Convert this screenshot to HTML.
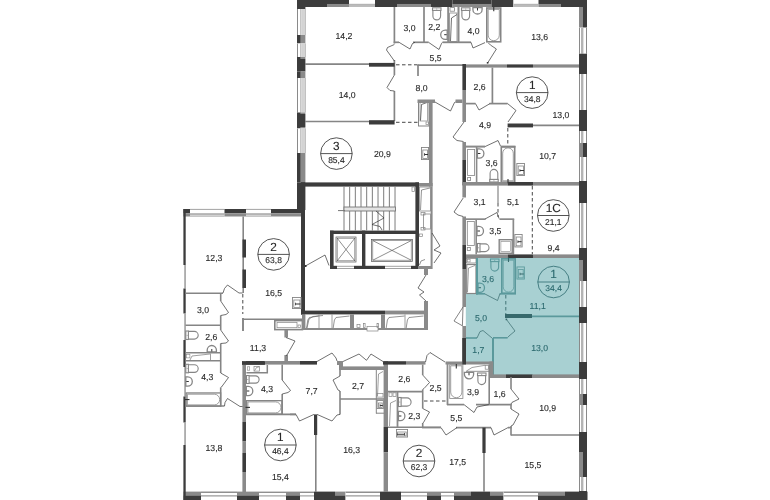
<!DOCTYPE html>
<html><head><meta charset="utf-8"><title>Plan</title>
<style>
html,body{margin:0;padding:0;background:#fff;}
body{width:770px;height:500px;overflow:hidden;}
svg{display:block;font-family:"Liberation Sans",Arial,sans-serif;}
text{text-rendering:geometricPrecision;}
svg{will-change:transform;}
</style></head><body>
<svg width="770" height="500" viewBox="0 0 770 500">
<rect width="770" height="500" fill="#fff"/>
<polygon points="476.5,258 579,258 579,375 493,375 493,362.5 465.8,362.5 465.8,293.5 476.5,293.5" fill="#a8d0d2"/>
<rect x="297" y="0" width="30" height="7" fill="#3c3c3c"/>
<rect x="327" y="0" width="22" height="3.99" fill="#3c3c3c"/>
<rect x="327" y="3.99" width="22" height="3.01" fill="#8a8a8a"/>
<rect x="349" y="0" width="26" height="7" fill="#fff"/>
<rect x="349" y="3.8" width="26" height="2.1" fill="#b4b4b4"/>
<rect x="349" y="6.3" width="26" height="0.7" fill="#a0a0a0"/>
<rect x="375" y="0" width="22" height="7" fill="#3c3c3c"/>
<rect x="397" y="0" width="34" height="3.99" fill="#3c3c3c"/>
<rect x="397" y="3.99" width="34" height="3.01" fill="#8a8a8a"/>
<rect x="431" y="0" width="21.5" height="7" fill="#3c3c3c"/>
<rect x="452.5" y="0" width="39" height="3.99" fill="#3c3c3c"/>
<rect x="452.5" y="3.99" width="39" height="3.01" fill="#8a8a8a"/>
<rect x="491.5" y="0" width="22" height="7" fill="#3c3c3c"/>
<rect x="513.5" y="0" width="25" height="7" fill="#fff"/>
<rect x="513.5" y="3.8" width="25" height="2.1" fill="#b4b4b4"/>
<rect x="513.5" y="6.3" width="25" height="0.7" fill="#a0a0a0"/>
<rect x="538.5" y="0" width="22.5" height="3.99" fill="#3c3c3c"/>
<rect x="538.5" y="3.99" width="22.5" height="3.01" fill="#8a8a8a"/>
<rect x="561" y="0" width="26" height="7" fill="#3c3c3c"/>
<rect x="579" y="7" width="4" height="20.7" fill="#8a8a8a"/>
<rect x="583" y="7" width="4" height="20.7" fill="#3c3c3c"/>
<rect x="579" y="27.7" width="8" height="26" fill="#fff"/>
<line x1="579.5" y1="27.7" x2="579.5" y2="53.7" stroke="#8a8a8a" stroke-width="1" />
<rect x="581" y="27.7" width="2.4" height="26" fill="#b4b4b4"/>
<line x1="586.5" y1="27.7" x2="586.5" y2="53.7" stroke="#8a8a8a" stroke-width="1" />
<rect x="579" y="53.7" width="8" height="20.3" fill="#3c3c3c"/>
<rect x="579" y="74" width="8" height="36" fill="#fff"/>
<line x1="579.5" y1="74" x2="579.5" y2="110" stroke="#8a8a8a" stroke-width="1" />
<rect x="581" y="74" width="2.4" height="36" fill="#b4b4b4"/>
<line x1="586.5" y1="74" x2="586.5" y2="110" stroke="#8a8a8a" stroke-width="1" />
<rect x="579" y="110" width="8" height="21" fill="#3c3c3c"/>
<rect x="579" y="131" width="8" height="12" fill="#fff"/>
<line x1="579.5" y1="131" x2="579.5" y2="143" stroke="#8a8a8a" stroke-width="1" />
<rect x="581" y="131" width="2.4" height="12" fill="#b4b4b4"/>
<line x1="586.5" y1="131" x2="586.5" y2="143" stroke="#8a8a8a" stroke-width="1" />
<rect x="579" y="143" width="4" height="14" fill="#8a8a8a"/>
<rect x="583" y="143" width="4" height="14" fill="#3c3c3c"/>
<rect x="579" y="157" width="8" height="24" fill="#fff"/>
<line x1="579.5" y1="157" x2="579.5" y2="181" stroke="#8a8a8a" stroke-width="1" />
<rect x="581" y="157" width="2.4" height="24" fill="#b4b4b4"/>
<line x1="586.5" y1="157" x2="586.5" y2="181" stroke="#8a8a8a" stroke-width="1" />
<rect x="579" y="181" width="8" height="22" fill="#3c3c3c"/>
<rect x="579" y="203" width="8" height="45" fill="#fff"/>
<line x1="579.5" y1="203" x2="579.5" y2="248" stroke="#8a8a8a" stroke-width="1" />
<rect x="581" y="203" width="2.4" height="45" fill="#b4b4b4"/>
<line x1="586.5" y1="203" x2="586.5" y2="248" stroke="#8a8a8a" stroke-width="1" />
<rect x="579" y="248" width="8" height="12" fill="#3c3c3c"/>
<rect x="579" y="260" width="4" height="21" fill="#8a8a8a"/>
<rect x="583" y="260" width="4" height="21" fill="#3c3c3c"/>
<rect x="579" y="281" width="8" height="26" fill="#fff"/>
<line x1="579.5" y1="281" x2="579.5" y2="307" stroke="#8a8a8a" stroke-width="1" />
<rect x="581" y="281" width="2.4" height="26" fill="#b4b4b4"/>
<line x1="586.5" y1="281" x2="586.5" y2="307" stroke="#8a8a8a" stroke-width="1" />
<rect x="579" y="307" width="8" height="16" fill="#3c3c3c"/>
<rect x="579" y="323" width="8" height="39" fill="#fff"/>
<line x1="579.5" y1="323" x2="579.5" y2="362" stroke="#8a8a8a" stroke-width="1" />
<rect x="581" y="323" width="2.4" height="39" fill="#b4b4b4"/>
<line x1="586.5" y1="323" x2="586.5" y2="362" stroke="#8a8a8a" stroke-width="1" />
<rect x="579" y="362" width="8" height="17" fill="#3c3c3c"/>
<rect x="579" y="379" width="8" height="15" fill="#fff"/>
<line x1="579.5" y1="379" x2="579.5" y2="394" stroke="#8a8a8a" stroke-width="1" />
<rect x="581" y="379" width="2.4" height="15" fill="#b4b4b4"/>
<line x1="586.5" y1="379" x2="586.5" y2="394" stroke="#8a8a8a" stroke-width="1" />
<rect x="579" y="394" width="4" height="11" fill="#8a8a8a"/>
<rect x="583" y="394" width="4" height="11" fill="#3c3c3c"/>
<rect x="579" y="405" width="8" height="27" fill="#fff"/>
<line x1="579.5" y1="405" x2="579.5" y2="432" stroke="#8a8a8a" stroke-width="1" />
<rect x="581" y="405" width="2.4" height="27" fill="#b4b4b4"/>
<line x1="586.5" y1="405" x2="586.5" y2="432" stroke="#8a8a8a" stroke-width="1" />
<rect x="579" y="432" width="8" height="20" fill="#3c3c3c"/>
<rect x="579" y="452" width="4" height="25" fill="#8a8a8a"/>
<rect x="583" y="452" width="4" height="25" fill="#3c3c3c"/>
<rect x="579" y="477" width="8" height="14" fill="#fff"/>
<line x1="579.5" y1="477" x2="579.5" y2="491" stroke="#8a8a8a" stroke-width="1" />
<rect x="581" y="477" width="2.4" height="14" fill="#b4b4b4"/>
<line x1="586.5" y1="477" x2="586.5" y2="491" stroke="#8a8a8a" stroke-width="1" />
<rect x="579" y="491" width="8" height="9" fill="#3c3c3c"/>
<rect x="579" y="0" width="8" height="7" fill="#3c3c3c"/>
<rect x="183.5" y="491.6" width="17.5" height="3.86" fill="#8a8a8a"/>
<rect x="183.5" y="495.46" width="17.5" height="4.54" fill="#3c3c3c"/>
<rect x="201" y="491.6" width="36" height="8.4" fill="#fff"/>
<line x1="201" y1="492.3" x2="237" y2="492.3" stroke="#909090" stroke-width="1.4" />
<line x1="201" y1="495.9" x2="237" y2="495.9" stroke="#9a9a9a" stroke-width="1.1" />
<rect x="237" y="491.6" width="22" height="3.86" fill="#8a8a8a"/>
<rect x="237" y="495.46" width="22" height="4.54" fill="#3c3c3c"/>
<rect x="259" y="491.6" width="27" height="8.4" fill="#fff"/>
<line x1="259" y1="492.3" x2="286" y2="492.3" stroke="#909090" stroke-width="1.4" />
<line x1="259" y1="495.9" x2="286" y2="495.9" stroke="#9a9a9a" stroke-width="1.1" />
<rect x="286" y="491.6" width="14" height="3.86" fill="#8a8a8a"/>
<rect x="286" y="495.46" width="14" height="4.54" fill="#3c3c3c"/>
<rect x="300" y="491.6" width="14" height="8.4" fill="#fff"/>
<line x1="300" y1="492.3" x2="314" y2="492.3" stroke="#909090" stroke-width="1.4" />
<line x1="300" y1="495.9" x2="314" y2="495.9" stroke="#9a9a9a" stroke-width="1.1" />
<rect x="314" y="491.6" width="21" height="8.4" fill="#3c3c3c"/>
<rect x="335" y="491.6" width="10.6" height="3.86" fill="#8a8a8a"/>
<rect x="335" y="495.46" width="10.6" height="4.54" fill="#3c3c3c"/>
<rect x="345.6" y="491.6" width="34.4" height="8.4" fill="#fff"/>
<line x1="345.6" y1="492.3" x2="380" y2="492.3" stroke="#909090" stroke-width="1.4" />
<line x1="345.6" y1="495.9" x2="380" y2="495.9" stroke="#9a9a9a" stroke-width="1.1" />
<rect x="380" y="491.6" width="21" height="8.4" fill="#3c3c3c"/>
<rect x="401" y="491.6" width="26" height="8.4" fill="#fff"/>
<line x1="401" y1="492.3" x2="427" y2="492.3" stroke="#909090" stroke-width="1.4" />
<line x1="401" y1="495.9" x2="427" y2="495.9" stroke="#9a9a9a" stroke-width="1.1" />
<rect x="427" y="491.6" width="14" height="3.86" fill="#8a8a8a"/>
<rect x="427" y="495.46" width="14" height="4.54" fill="#3c3c3c"/>
<rect x="441" y="491.6" width="13" height="8.4" fill="#fff"/>
<line x1="441" y1="492.3" x2="454" y2="492.3" stroke="#909090" stroke-width="1.4" />
<line x1="441" y1="495.9" x2="454" y2="495.9" stroke="#9a9a9a" stroke-width="1.1" />
<rect x="454" y="491.6" width="17" height="3.86" fill="#8a8a8a"/>
<rect x="454" y="495.46" width="17" height="4.54" fill="#3c3c3c"/>
<rect x="471" y="491.6" width="19" height="8.4" fill="#3c3c3c"/>
<rect x="490" y="491.6" width="13.6" height="3.86" fill="#8a8a8a"/>
<rect x="490" y="495.46" width="13.6" height="4.54" fill="#3c3c3c"/>
<rect x="503.6" y="491.6" width="34.4" height="8.4" fill="#fff"/>
<line x1="503.6" y1="492.3" x2="538" y2="492.3" stroke="#909090" stroke-width="1.4" />
<line x1="503.6" y1="495.9" x2="538" y2="495.9" stroke="#9a9a9a" stroke-width="1.1" />
<rect x="538" y="491.6" width="27" height="3.86" fill="#8a8a8a"/>
<rect x="538" y="495.46" width="27" height="4.54" fill="#3c3c3c"/>
<rect x="565" y="491.6" width="22.5" height="8.4" fill="#3c3c3c"/>
<rect x="297" y="0" width="8.4" height="9" fill="#3c3c3c"/>
<rect x="297" y="9" width="8.4" height="26" fill="#fff"/>
<line x1="297.5" y1="9" x2="297.5" y2="35" stroke="#8a8a8a" stroke-width="1" />
<line x1="300.9" y1="9" x2="300.9" y2="35" stroke="#959595" stroke-width="0.9" />
<line x1="303" y1="9" x2="303" y2="35" stroke="#b0b0b0" stroke-width="1.1" />
<line x1="305.1" y1="9" x2="305.1" y2="35" stroke="#8a8a8a" stroke-width="0.9" />
<rect x="297" y="35" width="3.78" height="8.5" fill="#3c3c3c"/>
<rect x="300.78" y="35" width="4.62" height="8.5" fill="#8a8a8a"/>
<rect x="297" y="43.5" width="8.4" height="13.5" fill="#fff"/>
<line x1="297.5" y1="43.5" x2="297.5" y2="57" stroke="#8a8a8a" stroke-width="1" />
<line x1="300.9" y1="43.5" x2="300.9" y2="57" stroke="#959595" stroke-width="0.9" />
<line x1="303" y1="43.5" x2="303" y2="57" stroke="#b0b0b0" stroke-width="1.1" />
<line x1="305.1" y1="43.5" x2="305.1" y2="57" stroke="#8a8a8a" stroke-width="0.9" />
<rect x="297" y="57" width="3.78" height="2" fill="#3c3c3c"/>
<rect x="300.78" y="57" width="4.62" height="2" fill="#8a8a8a"/>
<rect x="297" y="59" width="8.4" height="12.5" fill="#3c3c3c"/>
<rect x="297" y="71.5" width="3.78" height="6.5" fill="#3c3c3c"/>
<rect x="300.78" y="71.5" width="4.62" height="6.5" fill="#8a8a8a"/>
<rect x="297" y="78" width="8.4" height="34.5" fill="#fff"/>
<line x1="297.5" y1="78" x2="297.5" y2="112.5" stroke="#8a8a8a" stroke-width="1" />
<line x1="300.9" y1="78" x2="300.9" y2="112.5" stroke="#959595" stroke-width="0.9" />
<line x1="303" y1="78" x2="303" y2="112.5" stroke="#b0b0b0" stroke-width="1.1" />
<line x1="305.1" y1="78" x2="305.1" y2="112.5" stroke="#8a8a8a" stroke-width="0.9" />
<rect x="297" y="112.5" width="3.78" height="1.5" fill="#3c3c3c"/>
<rect x="300.78" y="112.5" width="4.62" height="1.5" fill="#8a8a8a"/>
<rect x="297" y="114" width="8.4" height="13" fill="#3c3c3c"/>
<rect x="297" y="127" width="3.78" height="1.5" fill="#3c3c3c"/>
<rect x="300.78" y="127" width="4.62" height="1.5" fill="#8a8a8a"/>
<rect x="297" y="128.5" width="8.4" height="24.5" fill="#fff"/>
<line x1="297.5" y1="128.5" x2="297.5" y2="153" stroke="#8a8a8a" stroke-width="1" />
<line x1="300.9" y1="128.5" x2="300.9" y2="153" stroke="#959595" stroke-width="0.9" />
<line x1="303" y1="128.5" x2="303" y2="153" stroke="#b0b0b0" stroke-width="1.1" />
<line x1="305.1" y1="128.5" x2="305.1" y2="153" stroke="#8a8a8a" stroke-width="0.9" />
<rect x="297" y="153" width="3.78" height="29.4" fill="#3c3c3c"/>
<rect x="300.78" y="153" width="4.62" height="29.4" fill="#8a8a8a"/>
<rect x="297" y="182.4" width="8.4" height="27.6" fill="#3c3c3c"/>
<rect x="183.4" y="209" width="6.6" height="4.28" fill="#3c3c3c"/>
<rect x="183.4" y="213.28" width="6.6" height="3.22" fill="#8a8a8a"/>
<rect x="190" y="209" width="34.5" height="7.5" fill="#fff"/>
<line x1="190" y1="209.4" x2="224.5" y2="209.4" stroke="#8a8a8a" stroke-width="0.8" />
<rect x="190" y="213.12" width="34.5" height="2.03" fill="#b4b4b4"/>
<line x1="190" y1="216.1" x2="224.5" y2="216.1" stroke="#8a8a8a" stroke-width="0.8" />
<rect x="224.5" y="209" width="21.5" height="4.28" fill="#3c3c3c"/>
<rect x="224.5" y="213.28" width="21.5" height="3.22" fill="#8a8a8a"/>
<rect x="246" y="209" width="25" height="7.5" fill="#fff"/>
<line x1="246" y1="209.4" x2="271" y2="209.4" stroke="#8a8a8a" stroke-width="0.8" />
<rect x="246" y="213.12" width="25" height="2.03" fill="#b4b4b4"/>
<line x1="246" y1="216.1" x2="271" y2="216.1" stroke="#8a8a8a" stroke-width="0.8" />
<rect x="271" y="209" width="30.5" height="4.28" fill="#3c3c3c"/>
<rect x="271" y="213.28" width="30.5" height="3.22" fill="#8a8a8a"/>
<rect x="183.4" y="209" width="2.3" height="56" fill="#3c3c3c"/>
<rect x="184.3" y="265" width="1.5" height="23.5" fill="#9a9a9a"/>
<rect x="183.4" y="288.5" width="2.3" height="25" fill="#3c3c3c"/>
<rect x="184.3" y="313.5" width="1.5" height="26.5" fill="#9a9a9a"/>
<rect x="183.4" y="340" width="2.3" height="27" fill="#3c3c3c"/>
<rect x="184.3" y="367" width="1.5" height="29.5" fill="#9a9a9a"/>
<rect x="183.4" y="396.5" width="2.3" height="26" fill="#3c3c3c"/>
<rect x="184.3" y="422.5" width="1.5" height="22.5" fill="#9a9a9a"/>
<rect x="183.4" y="445" width="2.3" height="55" fill="#3c3c3c"/>
<rect x="301" y="182.4" width="118" height="4.2" fill="#3c3c3c"/>
<rect x="301" y="182.4" width="4" height="132" fill="#3c3c3c"/>
<rect x="415.4" y="182.4" width="3.6" height="86.6" fill="#3c3c3c"/>
<rect x="301" y="310.6" width="84" height="3.8" fill="#3c3c3c"/>
<rect x="385" y="310.6" width="43" height="3.8" fill="#8a8a8a"/>
<rect x="330" y="230.6" width="89" height="3.4" fill="#3c3c3c"/>
<rect x="330" y="230.6" width="3.6" height="38.4" fill="#3c3c3c"/>
<rect x="362" y="230.6" width="3.4" height="38.4" fill="#3c3c3c"/>
<rect x="330" y="265.8" width="7" height="3.2" fill="#3c3c3c"/>
<rect x="354" y="265.8" width="31" height="3.2" fill="#3c3c3c"/>
<rect x="411" y="265.8" width="8" height="3.2" fill="#3c3c3c"/>
<line x1="337" y1="266.3" x2="354" y2="266.3" stroke="#8a8a8a" stroke-width="0.8" />
<line x1="337" y1="268.5" x2="354" y2="268.5" stroke="#8a8a8a" stroke-width="0.8" />
<line x1="385" y1="266.3" x2="411" y2="266.3" stroke="#8a8a8a" stroke-width="0.8" />
<line x1="385" y1="268.5" x2="411" y2="268.5" stroke="#8a8a8a" stroke-width="0.8" />
<rect x="336" y="237" width="20" height="25" fill="none" stroke="#555" stroke-width="0.7"/>
<rect x="337.2" y="238.2" width="17.6" height="22.6" fill="none" stroke="#666" stroke-width="0.6"/>
<line x1="337.2" y1="238.2" x2="354.8" y2="260.8" stroke="#444" stroke-width="0.6" />
<line x1="337.2" y1="260.8" x2="354.8" y2="238.2" stroke="#444" stroke-width="0.6" />
<rect x="371.6" y="239.4" width="40.8" height="22" fill="none" stroke="#555" stroke-width="0.7"/>
<rect x="372.8" y="240.6" width="38.4" height="19.6" fill="none" stroke="#666" stroke-width="0.6"/>
<line x1="372.8" y1="240.6" x2="411.2" y2="260.2" stroke="#444" stroke-width="0.6" />
<line x1="372.8" y1="260.2" x2="411.2" y2="240.6" stroke="#444" stroke-width="0.6" />
<line x1="344" y1="186.4" x2="344" y2="230.6" stroke="#7d7d7d" stroke-width="1" />
<line x1="349.67" y1="186.4" x2="349.67" y2="230.6" stroke="#7d7d7d" stroke-width="1" />
<line x1="355.34" y1="186.4" x2="355.34" y2="230.6" stroke="#7d7d7d" stroke-width="1" />
<line x1="361.01" y1="186.4" x2="361.01" y2="230.6" stroke="#7d7d7d" stroke-width="1" />
<line x1="366.68" y1="186.4" x2="366.68" y2="230.6" stroke="#7d7d7d" stroke-width="1" />
<line x1="372.35" y1="186.4" x2="372.35" y2="230.6" stroke="#7d7d7d" stroke-width="1" />
<line x1="378.02" y1="186.4" x2="378.02" y2="230.6" stroke="#7d7d7d" stroke-width="1" />
<line x1="383.69" y1="186.4" x2="383.69" y2="230.6" stroke="#7d7d7d" stroke-width="1" />
<line x1="389.36" y1="186.4" x2="389.36" y2="230.6" stroke="#7d7d7d" stroke-width="1" />
<line x1="395.03" y1="186.4" x2="395.03" y2="230.6" stroke="#7d7d7d" stroke-width="1" />
<rect x="344" y="207" width="51.5" height="4" fill="#e4e4e4" stroke="#777" stroke-width="0.9"/>
<line x1="338" y1="210.6" x2="345" y2="210.6" stroke="#777" stroke-width="1" />
<polyline points="376,211 380,214.5 384,218 372,224.5 380,226.5 382,230" fill="none" stroke="#333333" stroke-width="0.7" stroke-linejoin="round"/>
<polyline points="305.4,266 325,255 329,265.5" fill="none" stroke="#333333" stroke-width="0.7" stroke-linejoin="round"/>
<rect x="304.5" y="265" width="2" height="2" fill="#333"/>
<rect x="301" y="209.5" width="4" height="104.9" fill="#3c3c3c"/>
<line x1="394.4" y1="7" x2="394.4" y2="43.5" stroke="#858585" stroke-width="1.7" />
<line x1="394.4" y1="60" x2="394.4" y2="75" stroke="#858585" stroke-width="1.7" />
<line x1="394.4" y1="91" x2="394.4" y2="121" stroke="#858585" stroke-width="1.7" />
<line x1="305" y1="64.2" x2="369" y2="64.2" stroke="#858585" stroke-width="1.7" />
<rect x="369" y="62.9" width="25.6" height="3.8" fill="#3c3c3c"/>
<line x1="305" y1="121.5" x2="369" y2="121.5" stroke="#858585" stroke-width="1.7" />
<rect x="369" y="120.2" width="25.6" height="4.3" fill="#3c3c3c"/>
<line x1="396" y1="64.8" x2="417" y2="64.8" stroke="#333333" stroke-width="0.9" stroke-dasharray="3.5 2.5"/>
<line x1="396" y1="122.3" x2="418" y2="122.3" stroke="#333333" stroke-width="0.9" stroke-dasharray="3.5 2.5"/>
<line x1="424" y1="7" x2="424" y2="42.5" stroke="#858585" stroke-width="1.7" />
<line x1="393.7" y1="42.3" x2="399" y2="42.3" stroke="#858585" stroke-width="1.7" />
<line x1="413" y1="42.3" x2="428.5" y2="42.3" stroke="#858585" stroke-width="1.7" />
<polyline points="399,42.3 410,49 412.5,43.5 415,42.3" fill="none" stroke="#333333" stroke-width="0.7" stroke-linejoin="round"/>
<polyline points="394.4,44.5 387.5,47.5 386.5,50 394.4,61" fill="none" stroke="#333333" stroke-width="0.7" stroke-linejoin="round"/>
<polyline points="394.4,75 387,87.5 390,90.5 394.4,91" fill="none" stroke="#333333" stroke-width="0.7" stroke-linejoin="round"/>
<polyline points="428.5,42.3 439,49.5 441.5,43.5 442.5,42.3" fill="none" stroke="#333333" stroke-width="0.7" stroke-linejoin="round"/>
<line x1="442.5" y1="42.3" x2="471" y2="42.3" stroke="#858585" stroke-width="1.8" />
<rect x="447.2" y="7" width="1.8" height="36" fill="#8a8a8a"/>
<rect x="457.5" y="7" width="2" height="36" fill="#8a8a8a"/>
<rect x="450" y="7.6" width="4.5" height="3.6" fill="none" stroke="#858585" stroke-width="0.8"/>
<rect x="449.6" y="13" width="7.4" height="28.5" fill="none" stroke="#858585" stroke-width="0.8"/>
<polyline points="450.5,41 451.5,18 457,14.5" fill="none" stroke="#333333" stroke-width="0.7" stroke-linejoin="round"/>
<rect x="432.5" y="7.8" width="8.5" height="2.6" fill="#fff" fill-opacity="0" stroke="#858585" stroke-width="1.1"/>
<path d="M432.9 10.4 V16.05 A3.85 3.85 0 0 0 440.6 16.05 V10.4" fill="none" stroke="#858585" stroke-width="1.1"/>
<circle cx="436.75" cy="9.1" r="0.5" fill="#858585"/>
<path d="M447.2 30.1 H445.3 A4.6 4.6 0 0 0 445.3 39.3 H447.2 Z" fill="none" stroke="#858585" stroke-width="1.3"/>
<line x1="446.7" y1="34.7" x2="444.2" y2="34.7" stroke="#333333" stroke-width="1" />
<rect x="461.5" y="7.8" width="8.5" height="2.6" fill="#fff" fill-opacity="0" stroke="#858585" stroke-width="1.1"/>
<path d="M461.9 10.4 V16.05 A3.85 3.85 0 0 0 469.6 16.05 V10.4" fill="none" stroke="#858585" stroke-width="1.1"/>
<circle cx="465.75" cy="9.1" r="0.5" fill="#858585"/>
<path d="M472.9 7.5 V9.4 A4.6 4.6 0 0 0 482.1 9.4 V7.5 Z" fill="none" stroke="#858585" stroke-width="1.3"/>
<line x1="477.5" y1="8" x2="477.5" y2="10.5" stroke="#333333" stroke-width="1" />
<rect x="486.8" y="8" width="13.9" height="33.8" fill="none" stroke="#858585" stroke-width="1.6"/>
<path d="M488.2 9.4 V35.15 A5.25 5.25 0 0 0 499.3 35.15 V9.4 Z" fill="none" stroke="#858585" stroke-width="0.8"/>
<line x1="493.75" y1="6.7" x2="493.75" y2="11.2" stroke="#333333" stroke-width="1.1" />
<polyline points="471,42.3 473,48 485,42.6" fill="none" stroke="#333333" stroke-width="0.7" stroke-linejoin="round"/>
<polyline points="487.6,63 496.4,49 490.4,45 488.4,43" fill="none" stroke="#333333" stroke-width="0.7" stroke-linejoin="round"/>
<rect x="486.8" y="62" width="1.6" height="1.6" fill="#333"/>
<line x1="418" y1="64.6" x2="418" y2="76" stroke="#858585" stroke-width="1.7" />
<line x1="417.3" y1="65.2" x2="463" y2="65.2" stroke="#858585" stroke-width="1.7" />
<rect x="462.4" y="64" width="3.6" height="26" fill="#3c3c3c"/>
<rect x="462.4" y="90" width="3.6" height="32" fill="#8a8a8a"/>
<rect x="462.4" y="142" width="3.6" height="18" fill="#8a8a8a"/>
<rect x="462.4" y="160" width="3.6" height="25" fill="#3c3c3c"/>
<rect x="462.4" y="185" width="3.6" height="12.5" fill="#8a8a8a"/>
<rect x="462.4" y="216.5" width="3.6" height="28.5" fill="#8a8a8a"/>
<rect x="462.4" y="245" width="3.6" height="24" fill="#3c3c3c"/>
<rect x="462.4" y="269" width="3.6" height="38" fill="#8a8a8a"/>
<rect x="462.4" y="326" width="3.6" height="12" fill="#8a8a8a"/>
<rect x="462.4" y="338" width="3.6" height="26" fill="#3c3c3c"/>
<rect x="429" y="100" width="3.6" height="86.5" fill="#8a8a8a"/>
<rect x="430.6" y="186.5" width="2" height="82.5" fill="#8a8a8a"/>
<rect x="419" y="183" width="13.6" height="3.5" fill="#8a8a8a"/>
<rect x="418.5" y="100.5" width="10.5" height="25.5" fill="none" stroke="#858585" stroke-width="1"/>
<rect x="420" y="102" width="7.5" height="19" fill="none" stroke="#858585" stroke-width="0.7"/>
<polyline points="420.5,120.5 421.5,104.5 427,102.5" fill="none" stroke="#333333" stroke-width="0.7" stroke-linejoin="round"/>
<rect x="426" y="122" width="2.6" height="2.6" fill="none" stroke="#858585" stroke-width="0.7"/>
<rect x="421.45" y="147.45" width="7.1" height="12.1" fill="none" stroke="#858585" stroke-width="0.9"/>
<rect x="422.8" y="150" width="4.6" height="8.4" fill="none" stroke="#858585" stroke-width="0.8"/>
<line x1="428" y1="154.5" x2="424.5" y2="154.5" stroke="#333333" stroke-width="1" />
<line x1="424.5" y1="153.2" x2="424.5" y2="155.8" stroke="#333333" stroke-width="0.8" />
<rect x="417.5" y="99.5" width="17.5" height="3.5" fill="#8a8a8a"/>
<rect x="455.5" y="99.5" width="6.9" height="3.5" fill="#8a8a8a"/>
<polyline points="435,102 450.5,111 454.5,102.5 455.5,102" fill="none" stroke="#333333" stroke-width="0.7" stroke-linejoin="round"/>
<circle cx="336.4" cy="153.6" r="15.8" fill="none" stroke="#2a2a2a" stroke-width="0.8"/>
<line x1="320.6" y1="153.6" x2="352.2" y2="153.6" stroke="#2a2a2a" stroke-width="0.8" />
<text x="336.4" y="149.72" font-size="11.8" fill="#2a2a2a" stroke="#2a2a2a" stroke-width="0.12" text-anchor="middle">3</text>
<text x="336.4" y="162.64" font-size="8.5" fill="#2a2a2a" stroke="#2a2a2a" stroke-width="0.12" text-anchor="middle">85,4</text>
<text x="344" y="38.71" font-size="8.7" fill="#2a2a2a" stroke="#2a2a2a" stroke-width="0.12" text-anchor="middle">14,2</text>
<text x="409.5" y="30.51" font-size="8.7" fill="#2a2a2a" stroke="#2a2a2a" stroke-width="0.12" text-anchor="middle">3,0</text>
<text x="434.3" y="30.31" font-size="8.7" fill="#2a2a2a" stroke="#2a2a2a" stroke-width="0.12" text-anchor="middle">2,2</text>
<text x="473.5" y="34.31" font-size="8.7" fill="#2a2a2a" stroke="#2a2a2a" stroke-width="0.12" text-anchor="middle">4,0</text>
<text x="539.6" y="39.51" font-size="8.7" fill="#2a2a2a" stroke="#2a2a2a" stroke-width="0.12" text-anchor="middle">13,6</text>
<text x="435.6" y="60.71" font-size="8.7" fill="#2a2a2a" stroke="#2a2a2a" stroke-width="0.12" text-anchor="middle">5,5</text>
<text x="421.6" y="91.11" font-size="8.7" fill="#2a2a2a" stroke="#2a2a2a" stroke-width="0.12" text-anchor="middle">8,0</text>
<text x="347.2" y="97.91" font-size="8.7" fill="#2a2a2a" stroke="#2a2a2a" stroke-width="0.12" text-anchor="middle">14,0</text>
<text x="382.4" y="157.11" font-size="8.7" fill="#2a2a2a" stroke="#2a2a2a" stroke-width="0.12" text-anchor="middle">20,9</text>
<rect x="466" y="64.4" width="41" height="3.2" fill="#8a8a8a"/>
<rect x="507" y="64.4" width="26" height="3.2" fill="#3c3c3c"/>
<rect x="533" y="64.4" width="46" height="3.2" fill="#8a8a8a"/>
<line x1="492.4" y1="67.6" x2="492.4" y2="103.6" stroke="#858585" stroke-width="1.7" />
<line x1="466" y1="103.6" x2="475.5" y2="103.6" stroke="#858585" stroke-width="1.7" />
<line x1="489.5" y1="103.6" x2="507.6" y2="103.6" stroke="#858585" stroke-width="1.7" />
<polyline points="475.5,103.6 479,110 490,103.6" fill="none" stroke="#333333" stroke-width="0.7" stroke-linejoin="round"/>
<polyline points="507.6,103.6 516,110.5 508,122" fill="none" stroke="#333333" stroke-width="0.7" stroke-linejoin="round"/>
<rect x="507.6" y="123.5" width="25.4" height="3.9" fill="#3c3c3c"/>
<line x1="533" y1="125.4" x2="579" y2="125.4" stroke="#858585" stroke-width="1.7" />
<line x1="507.8" y1="128" x2="507.8" y2="146" stroke="#333333" stroke-width="0.9" stroke-dasharray="3.5 2.5"/>
<polyline points="464,122 453,137 457,140.5 463.5,141.5" fill="none" stroke="#333333" stroke-width="0.7" stroke-linejoin="round"/>
<rect x="466" y="145.6" width="19" height="2" fill="#8a8a8a"/>
<rect x="501" y="145.6" width="14.5" height="2" fill="#8a8a8a"/>
<polyline points="485,146.6 498,140.5 500.5,146" fill="none" stroke="#333333" stroke-width="0.7" stroke-linejoin="round"/>
<rect x="475.8" y="146" width="1.6" height="37" fill="#8a8a8a"/>
<rect x="467.6" y="149.5" width="7" height="26" fill="none" stroke="#858585" stroke-width="0.8"/>
<rect x="467.6" y="177.5" width="3" height="3" fill="none" stroke="#858585" stroke-width="0.8"/>
<rect x="501.3" y="146.8" width="13.4" height="35.4" fill="none" stroke="#858585" stroke-width="1.6"/>
<path d="M502.7 180.8 V153.2 A5 5 0 0 1 513.3 153.2 V180.8 Z" fill="none" stroke="#858585" stroke-width="0.8"/>
<line x1="508" y1="183.5" x2="508" y2="179" stroke="#333333" stroke-width="1.1" />
<path d="M477.4 148.9 H479.3 A4.6 4.6 0 0 1 479.3 158.1 H477.4 Z" fill="none" stroke="#858585" stroke-width="1.3"/>
<line x1="477.9" y1="153.5" x2="480.4" y2="153.5" stroke="#333333" stroke-width="1" />
<rect x="489.7" y="179.4" width="8.5" height="2.6" fill="none" stroke="#858585" stroke-width="1.1"/>
<path d="M490.1 179.4 V173.25 A3.85 3.85 0 0 1 497.8 173.25 V179.4" fill="none" stroke="#858585" stroke-width="1.1"/>
<circle cx="493.95" cy="180.7" r="0.5" fill="#858585"/>
<rect x="462.4" y="182" width="45.2" height="3.6" fill="#8a8a8a"/>
<rect x="507.6" y="182" width="25.4" height="3.6" fill="#3c3c3c"/>
<rect x="533" y="182" width="46" height="3.6" fill="#8a8a8a"/>
<rect x="516.85" y="163.45" width="7.7" height="12.1" fill="none" stroke="#858585" stroke-width="0.9"/>
<rect x="518.2" y="166" width="5.2" height="8.4" fill="none" stroke="#858585" stroke-width="0.8"/>
<line x1="524" y1="170.5" x2="519.9" y2="170.5" stroke="#333333" stroke-width="1" />
<line x1="519.9" y1="169.2" x2="519.9" y2="171.8" stroke="#333333" stroke-width="0.8" />
<circle cx="532.2" cy="92.6" r="15.8" fill="none" stroke="#2a2a2a" stroke-width="0.8"/>
<line x1="516.4" y1="92.6" x2="548" y2="92.6" stroke="#2a2a2a" stroke-width="0.8" />
<text x="532.2" y="88.72" font-size="11.8" fill="#2a2a2a" stroke="#2a2a2a" stroke-width="0.12" text-anchor="middle">1</text>
<text x="532.2" y="101.64" font-size="8.5" fill="#2a2a2a" stroke="#2a2a2a" stroke-width="0.12" text-anchor="middle">34,8</text>
<text x="479.6" y="89.51" font-size="8.7" fill="#2a2a2a" stroke="#2a2a2a" stroke-width="0.12" text-anchor="middle">2,6</text>
<text x="485" y="127.51" font-size="8.7" fill="#2a2a2a" stroke="#2a2a2a" stroke-width="0.12" text-anchor="middle">4,9</text>
<text x="561" y="118.11" font-size="8.7" fill="#2a2a2a" stroke="#2a2a2a" stroke-width="0.12" text-anchor="middle">13,0</text>
<text x="547.6" y="158.71" font-size="8.7" fill="#2a2a2a" stroke="#2a2a2a" stroke-width="0.12" text-anchor="middle">10,7</text>
<text x="491.6" y="166.11" font-size="8.7" fill="#2a2a2a" stroke="#2a2a2a" stroke-width="0.12" text-anchor="middle">3,6</text>
<line x1="498" y1="185.6" x2="498" y2="203" stroke="#858585" stroke-width="1.2" />
<line x1="498" y1="203" x2="498" y2="217" stroke="#333333" stroke-width="0.9" stroke-dasharray="3.5 2.5"/>
<line x1="532.3" y1="186" x2="532.3" y2="254" stroke="#333333" stroke-width="0.9" stroke-dasharray="3.5 2.5"/>
<polyline points="463.2,198 454,212 458,215 463.2,216.5" fill="none" stroke="#333333" stroke-width="0.7" stroke-linejoin="round"/>
<rect x="466" y="218.3" width="19.5" height="1.7" fill="#8a8a8a"/>
<rect x="499.5" y="218.3" width="14.7" height="1.7" fill="#8a8a8a"/>
<polyline points="485,219 497,212.5 499,218.5" fill="none" stroke="#333333" stroke-width="0.7" stroke-linejoin="round"/>
<rect x="512.5" y="219" width="1.7" height="35.4" fill="#8a8a8a"/>
<rect x="475.4" y="219" width="1.6" height="35.4" fill="#8a8a8a"/>
<rect x="467.3" y="221.5" width="7" height="24" fill="none" stroke="#858585" stroke-width="0.8"/>
<rect x="467.3" y="247.5" width="3" height="3" fill="none" stroke="#858585" stroke-width="0.8"/>
<path d="M477 226.4 H478.9 A4.6 4.6 0 0 1 478.9 235.6 H477 Z" fill="none" stroke="#858585" stroke-width="1.3"/>
<line x1="477.5" y1="231" x2="480" y2="231" stroke="#333333" stroke-width="1" />
<rect x="477.4" y="243.5" width="2.6" height="8.5" fill="none" stroke="#858585" stroke-width="1.1"/>
<path d="M480 243.9 H485.15 A3.85 3.85 0 0 1 485.15 251.6 H480" fill="none" stroke="#858585" stroke-width="1.1"/>
<circle cx="478.7" cy="247.75" r="0.5" fill="#858585"/>
<rect x="499.2" y="239.7" width="13" height="13.6" fill="none" stroke="#858585" stroke-width="1.4"/>
<rect x="500.9" y="241.4" width="9.6" height="10.2" fill="none" stroke="#858585" stroke-width="0.6"/>
<rect x="514.85" y="234.45" width="7.3" height="12.5" fill="none" stroke="#858585" stroke-width="0.9"/>
<rect x="516.2" y="237" width="4.8" height="8.8" fill="none" stroke="#858585" stroke-width="0.8"/>
<line x1="521.6" y1="241.7" x2="517.9" y2="241.7" stroke="#333333" stroke-width="1" />
<line x1="517.9" y1="240.4" x2="517.9" y2="243" stroke="#333333" stroke-width="0.8" />
<rect x="466" y="254.4" width="41.6" height="3.6" fill="#8a8a8a"/>
<rect x="507.6" y="254.4" width="25.4" height="3.6" fill="#3c3c3c"/>
<rect x="533" y="254.4" width="46" height="3.6" fill="#8a8a8a"/>
<circle cx="553.3" cy="215.5" r="15.8" fill="none" stroke="#2a2a2a" stroke-width="0.8"/>
<line x1="537.5" y1="215.5" x2="569.1" y2="215.5" stroke="#2a2a2a" stroke-width="0.8" />
<text x="553.3" y="211.62" font-size="11.8" fill="#2a2a2a" stroke="#2a2a2a" stroke-width="0.12" text-anchor="middle">1C</text>
<text x="553.3" y="224.54" font-size="8.5" fill="#2a2a2a" stroke="#2a2a2a" stroke-width="0.12" text-anchor="middle">21,1</text>
<text x="479.6" y="205.11" font-size="8.7" fill="#2a2a2a" stroke="#2a2a2a" stroke-width="0.12" text-anchor="middle">3,1</text>
<text x="513" y="205.11" font-size="8.7" fill="#2a2a2a" stroke="#2a2a2a" stroke-width="0.12" text-anchor="middle">5,1</text>
<text x="495.4" y="234.11" font-size="8.7" fill="#2a2a2a" stroke="#2a2a2a" stroke-width="0.12" text-anchor="middle">3,5</text>
<text x="553.6" y="250.51" font-size="8.7" fill="#2a2a2a" stroke="#2a2a2a" stroke-width="0.12" text-anchor="middle">9,4</text>
<rect x="466.5" y="258.5" width="9.5" height="4.5" fill="#fff" stroke="#858585" stroke-width="0.8"/>
<rect x="467.5" y="259.3" width="2.6" height="2.6" fill="none" stroke="#858585" stroke-width="0.6"/>
<rect x="466.7" y="264.5" width="9.3" height="29" fill="#fff" stroke="#858585" stroke-width="1.2"/>
<polyline points="467.5,292 468.5,268 475,265.5" fill="none" stroke="#777" stroke-width="0.7" stroke-linejoin="round"/>
<rect x="476" y="258" width="2" height="36.5" fill="#5b999c"/>
<rect x="476" y="293" width="9" height="1.6" fill="#5b999c"/>
<rect x="499.5" y="293" width="16.5" height="1.6" fill="#5b999c"/>
<polyline points="485,294 497.5,300.5 499.5,295 500,294" fill="none" stroke="#37696c" stroke-width="0.7" stroke-linejoin="round"/>
<rect x="490.5" y="259" width="8.5" height="2.6" fill="#fff" fill-opacity="0" stroke="#5b999c" stroke-width="1.1"/>
<path d="M490.9 261.6 V267.25 A3.85 3.85 0 0 0 498.6 267.25 V261.6" fill="none" stroke="#5b999c" stroke-width="1.1"/>
<circle cx="494.75" cy="260.3" r="0.5" fill="#5b999c"/>
<path d="M478 283.1 H479.9 A4.6 4.6 0 0 1 479.9 292.3 H478 Z" fill="none" stroke="#5b999c" stroke-width="1.3"/>
<line x1="478.5" y1="287.7" x2="481" y2="287.7" stroke="#37696c" stroke-width="1" />
<rect x="501.8" y="258.8" width="13.4" height="34.4" fill="none" stroke="#5b999c" stroke-width="1.6"/>
<path d="M503.2 260.2 V286.8 A5 5 0 0 0 513.8 286.8 V260.2 Z" fill="none" stroke="#5b999c" stroke-width="0.8"/>
<line x1="508.5" y1="257.5" x2="508.5" y2="262" stroke="#37696c" stroke-width="1.1" />
<rect x="516.95" y="266.95" width="7.4" height="12.1" fill="none" stroke="#5b999c" stroke-width="0.9"/>
<rect x="518.3" y="269.5" width="4.9" height="8.4" fill="none" stroke="#5b999c" stroke-width="0.8"/>
<line x1="523.8" y1="274" x2="520" y2="274" stroke="#37696c" stroke-width="1" />
<line x1="520" y1="272.7" x2="520" y2="275.3" stroke="#37696c" stroke-width="0.8" />
<line x1="505.8" y1="295" x2="505.8" y2="314" stroke="#37696c" stroke-width="0.9" stroke-dasharray="3.5 2.5"/>
<rect x="505" y="314" width="27" height="4" fill="#37696c"/>
<line x1="532" y1="316.4" x2="579" y2="316.4" stroke="#5b999c" stroke-width="1.7" />
<polyline points="506.5,319.5 515,331 509,336 507.6,337.6" fill="none" stroke="#37696c" stroke-width="0.7" stroke-linejoin="round"/>
<rect x="505.6" y="318.6" width="1.6" height="1.6" fill="#37696c"/>
<line x1="493" y1="337.8" x2="507.6" y2="337.8" stroke="#5b999c" stroke-width="1.6" />
<line x1="465.8" y1="338" x2="477" y2="338" stroke="#5b999c" stroke-width="1.6" />
<polyline points="477,338 480,331.6 483,330.5 492,338" fill="none" stroke="#37696c" stroke-width="0.7" stroke-linejoin="round"/>
<rect x="492" y="338" width="2" height="37" fill="#5b999c"/>
<line x1="493" y1="338" x2="493" y2="362" stroke="#5b999c" stroke-width="1.7" />
<polygon points="463,307 454,321 462.4,325.8" fill="#fff" stroke="#333333" stroke-width="0.6"/>
<circle cx="553.6" cy="282" r="15.8" fill="none" stroke="#2c6a6f" stroke-width="0.8"/>
<line x1="537.8" y1="282" x2="569.4" y2="282" stroke="#2c6a6f" stroke-width="0.8" />
<text x="553.6" y="278.12" font-size="11.8" fill="#2c6a6f" stroke="#2c6a6f" stroke-width="0.12" text-anchor="middle">1</text>
<text x="553.6" y="291.04" font-size="8.5" fill="#2c6a6f" stroke="#2c6a6f" stroke-width="0.12" text-anchor="middle">34,4</text>
<text x="488" y="281.51" font-size="8.7" fill="#2c6a6f" stroke="#2c6a6f" stroke-width="0.12" text-anchor="middle">3,6</text>
<text x="537.6" y="308.71" font-size="8.7" fill="#2c6a6f" stroke="#2c6a6f" stroke-width="0.12" text-anchor="middle">11,1</text>
<text x="481" y="320.71" font-size="8.7" fill="#2c6a6f" stroke="#2c6a6f" stroke-width="0.12" text-anchor="middle">5,0</text>
<text x="539.6" y="351.11" font-size="8.7" fill="#2c6a6f" stroke="#2c6a6f" stroke-width="0.12" text-anchor="middle">13,0</text>
<text x="478.4" y="352.71" font-size="8.7" fill="#2c6a6f" stroke="#2c6a6f" stroke-width="0.12" text-anchor="middle">1,7</text>
<rect x="493" y="374.4" width="13" height="3.6" fill="#8a8a8a"/>
<rect x="506" y="374.4" width="26.6" height="3.6" fill="#3c3c3c"/>
<rect x="532.6" y="374.4" width="46.4" height="3.6" fill="#8a8a8a"/>
<rect x="489.4" y="361.5" width="4" height="16.5" fill="#8a8a8a"/>
<rect x="445.5" y="361.5" width="47.5" height="3" fill="#8a8a8a"/>
<rect x="446.6" y="362" width="1.8" height="43" fill="#8a8a8a"/>
<line x1="447" y1="404.6" x2="464" y2="404.6" stroke="#858585" stroke-width="1.7" />
<line x1="476" y1="404.6" x2="511.6" y2="404.6" stroke="#858585" stroke-width="1.7" />
<polyline points="464,404.6 474,412.5 477,407 489,404.6" fill="none" stroke="#333333" stroke-width="0.7" stroke-linejoin="round"/>
<rect x="449.7" y="364.8" width="13.2" height="33.6" fill="none" stroke="#858585" stroke-width="0.8"/>
<path d="M450.7 365.8 V392.1 A5.3 5.3 0 0 0 461.9 392.1 V365.8 Z" fill="none" stroke="#858585" stroke-width="0.8"/>
<line x1="456.3" y1="363.9" x2="456.3" y2="368.4" stroke="#333333" stroke-width="1.1" />
<line x1="466" y1="371.3" x2="489" y2="371.3" stroke="#858585" stroke-width="0.9" />
<polyline points="466.5,371 472,367.5 485,365.3" fill="none" stroke="#777" stroke-width="0.7" stroke-linejoin="round"/>
<rect x="485.2" y="365.6" width="3.4" height="3.6" fill="none" stroke="#858585" stroke-width="0.7"/>
<path d="M464.4 372.3 V374.2 A4.6 4.6 0 0 0 473.6 374.2 V372.3 Z" fill="none" stroke="#858585" stroke-width="1.3"/>
<line x1="469" y1="372.8" x2="469" y2="375.3" stroke="#333333" stroke-width="1" />
<rect x="477.5" y="373" width="8.5" height="2.6" fill="#fff" fill-opacity="0" stroke="#858585" stroke-width="1.1"/>
<path d="M477.9 375.6 V380.75 A3.85 3.85 0 0 0 485.6 380.75 V375.6" fill="none" stroke="#858585" stroke-width="1.1"/>
<circle cx="481.75" cy="374.3" r="0.5" fill="#858585"/>
<line x1="489.2" y1="364.5" x2="489.2" y2="404.6" stroke="#858585" stroke-width="1.6" />
<line x1="511" y1="377" x2="511" y2="389" stroke="#858585" stroke-width="1.6" />
<line x1="511" y1="404" x2="511" y2="409" stroke="#858585" stroke-width="1.6" />
<line x1="511" y1="426" x2="511" y2="435.6" stroke="#858585" stroke-width="1.6" />
<polyline points="511,389 519,399 512,402.4 511,404" fill="none" stroke="#333333" stroke-width="0.7" stroke-linejoin="round"/>
<polyline points="511,409 519,414 513,425 511,426" fill="none" stroke="#333333" stroke-width="0.7" stroke-linejoin="round"/>
<line x1="511" y1="435" x2="579" y2="435" stroke="#858585" stroke-width="1.6" />
<line x1="422" y1="427.6" x2="441" y2="427.6" stroke="#858585" stroke-width="1.6" />
<line x1="456" y1="427.6" x2="491" y2="427.6" stroke="#858585" stroke-width="1.6" />
<line x1="508" y1="427.6" x2="511.6" y2="427.6" stroke="#858585" stroke-width="1.6" />
<polyline points="441,427.6 446,435 457,427.6" fill="none" stroke="#333333" stroke-width="0.7" stroke-linejoin="round"/>
<polyline points="491,427.6 494,435 508,427.6" fill="none" stroke="#333333" stroke-width="0.7" stroke-linejoin="round"/>
<rect x="482.4" y="427.6" width="3.2" height="25.4" fill="#3c3c3c"/>
<line x1="484" y1="453" x2="484" y2="492" stroke="#858585" stroke-width="1.6" />
<text x="456.4" y="421.11" font-size="8.7" fill="#2a2a2a" stroke="#2a2a2a" stroke-width="0.12" text-anchor="middle">5,5</text>
<text x="473" y="395.11" font-size="8.7" fill="#2a2a2a" stroke="#2a2a2a" stroke-width="0.12" text-anchor="middle">3,9</text>
<text x="499.6" y="396.71" font-size="8.7" fill="#2a2a2a" stroke="#2a2a2a" stroke-width="0.12" text-anchor="middle">1,6</text>
<text x="547.6" y="410.51" font-size="8.7" fill="#2a2a2a" stroke="#2a2a2a" stroke-width="0.12" text-anchor="middle">10,9</text>
<text x="457.6" y="464.71" font-size="8.7" fill="#2a2a2a" stroke="#2a2a2a" stroke-width="0.12" text-anchor="middle">17,5</text>
<text x="533" y="468.11" font-size="8.7" fill="#2a2a2a" stroke="#2a2a2a" stroke-width="0.12" text-anchor="middle">15,5</text>
<rect x="383.6" y="361" width="4.4" height="66" fill="#8a8a8a"/>
<rect x="383.6" y="427" width="4.4" height="25.4" fill="#3c3c3c"/>
<rect x="383.6" y="452.4" width="4.4" height="39.6" fill="#8a8a8a"/>
<rect x="383" y="361.2" width="23" height="3.4" fill="#3c3c3c"/>
<rect x="406" y="361.2" width="19.5" height="3.4" fill="#8a8a8a"/>
<line x1="388" y1="391.6" x2="422" y2="391.6" stroke="#858585" stroke-width="1.6" />
<line x1="422.7" y1="364.6" x2="422.7" y2="375" stroke="#858585" stroke-width="1.6" />
<line x1="422.7" y1="389.5" x2="422.7" y2="408.5" stroke="#858585" stroke-width="1.6" />
<line x1="422.7" y1="423" x2="422.7" y2="427.5" stroke="#858585" stroke-width="1.6" />
<polyline points="422.7,375 429.5,382.5 424,388.5 422.7,389.5" fill="none" stroke="#333333" stroke-width="0.7" stroke-linejoin="round"/>
<polyline points="422.7,408.5 429.5,412 423.5,422.5 422.7,423" fill="none" stroke="#333333" stroke-width="0.7" stroke-linejoin="round"/>
<rect x="396.6" y="391.6" width="1.8" height="36" fill="#8a8a8a"/>
<line x1="388" y1="427.2" x2="441" y2="427.2" stroke="#858585" stroke-width="1.6" />
<line x1="424" y1="401" x2="447" y2="401" stroke="#333333" stroke-width="0.9" stroke-dasharray="3.5 2.5"/>
<polyline points="425.5,362 427,355.5 430,352.5 445,362" fill="none" stroke="#333333" stroke-width="0.7" stroke-linejoin="round"/>
<rect x="398.5" y="397.5" width="2.6" height="9" fill="none" stroke="#858585" stroke-width="1.1"/>
<path d="M401.1 397.9 H407 A4.1 4.1 0 0 1 407 406.1 H401.1" fill="none" stroke="#858585" stroke-width="1.1"/>
<circle cx="399.8" cy="402" r="0.5" fill="#858585"/>
<path d="M398.4 411.4 H400.3 A4.6 4.6 0 0 1 400.3 420.6 H398.4 Z" fill="none" stroke="#858585" stroke-width="1.3"/>
<line x1="398.9" y1="416" x2="401.4" y2="416" stroke="#333333" stroke-width="1" />
<rect x="396.45" y="429.45" width="11.1" height="7.6" fill="none" stroke="#858585" stroke-width="0.9"/>
<rect x="397.6" y="432" width="8.6" height="3.9" fill="none" stroke="#858585" stroke-width="0.8"/>
<line x1="397" y1="434.25" x2="404.5" y2="434.25" stroke="#333333" stroke-width="1" />
<line x1="404.5" y1="432.95" x2="404.5" y2="435.55" stroke="#333333" stroke-width="0.8" />
<rect x="389" y="392.8" width="3" height="3.6" fill="none" stroke="#858585" stroke-width="0.7"/>
<rect x="393" y="392.8" width="3" height="3.6" fill="none" stroke="#858585" stroke-width="0.7"/>
<polyline points="389.5,426 390.5,403 396,400.5" fill="none" stroke="#777" stroke-width="0.7" stroke-linejoin="round"/>
<circle cx="419" cy="461" r="15.8" fill="none" stroke="#2a2a2a" stroke-width="0.8"/>
<line x1="403.2" y1="461" x2="434.8" y2="461" stroke="#2a2a2a" stroke-width="0.8" />
<text x="419" y="457.12" font-size="11.8" fill="#2a2a2a" stroke="#2a2a2a" stroke-width="0.12" text-anchor="middle">2</text>
<text x="419" y="470.04" font-size="8.5" fill="#2a2a2a" stroke="#2a2a2a" stroke-width="0.12" text-anchor="middle">62,3</text>
<text x="404.4" y="382.11" font-size="8.7" fill="#2a2a2a" stroke="#2a2a2a" stroke-width="0.12" text-anchor="middle">2,6</text>
<text x="435.6" y="390.71" font-size="8.7" fill="#2a2a2a" stroke="#2a2a2a" stroke-width="0.12" text-anchor="middle">2,5</text>
<text x="414.2" y="418.71" font-size="8.7" fill="#2a2a2a" stroke="#2a2a2a" stroke-width="0.12" text-anchor="middle">2,3</text>
<rect x="242" y="361" width="22" height="3.6" fill="#3c3c3c"/>
<rect x="264" y="361" width="36" height="3.6" fill="#8a8a8a"/>
<rect x="300" y="361" width="17" height="3.6" fill="#3c3c3c"/>
<polyline points="317,361.5 332,353 336,358 337,361" fill="none" stroke="#333333" stroke-width="0.7" stroke-linejoin="round"/>
<rect x="337" y="361" width="6" height="4" fill="#8a8a8a"/>
<rect x="339" y="361" width="4" height="9" fill="#8a8a8a"/>
<rect x="339" y="366.4" width="49" height="3.6" fill="#8a8a8a"/>
<polyline points="343,361.5 359,354 366.5,360.3" fill="none" stroke="#333333" stroke-width="0.7" stroke-linejoin="round"/>
<polyline points="366.5,360.3 371,354 383,361.5" fill="none" stroke="#333333" stroke-width="0.7" stroke-linejoin="round"/>
<line x1="340" y1="370" x2="340" y2="376" stroke="#858585" stroke-width="1.6" />
<line x1="340" y1="391" x2="340" y2="414.6" stroke="#858585" stroke-width="1.6" />
<polyline points="340,376 333,380 338,390 340,391" fill="none" stroke="#333333" stroke-width="0.7" stroke-linejoin="round"/>
<line x1="340" y1="399" x2="384" y2="399" stroke="#858585" stroke-width="1.6" />
<line x1="376.3" y1="370" x2="376.3" y2="413.5" stroke="#858585" stroke-width="1" />
<line x1="376" y1="413.2" x2="384" y2="413.2" stroke="#858585" stroke-width="1" />
<polyline points="377.5,396 378.5,374 383,371.5" fill="none" stroke="#777" stroke-width="0.7" stroke-linejoin="round"/>
<rect x="377" y="393.5" width="6" height="3.6" fill="none" stroke="#858585" stroke-width="0.7"/>
<rect x="377.05" y="400.45" width="6.3" height="8.1" fill="none" stroke="#858585" stroke-width="0.9"/>
<rect x="378.4" y="403" width="3.8" height="4.4" fill="none" stroke="#858585" stroke-width="0.8"/>
<line x1="382.8" y1="405.5" x2="380.1" y2="405.5" stroke="#333333" stroke-width="1" />
<line x1="380.1" y1="404.2" x2="380.1" y2="406.8" stroke="#333333" stroke-width="0.8" />
<line x1="246" y1="414.4" x2="296" y2="414.4" stroke="#858585" stroke-width="1.6" />
<line x1="290" y1="414.4" x2="296" y2="414.4" stroke="#858585" stroke-width="1.6" />
<polyline points="296,414.4 299.5,421 314,414.4" fill="none" stroke="#333333" stroke-width="0.7" stroke-linejoin="round"/>
<polyline points="317,414.4 332,421 337,415 340,414.4" fill="none" stroke="#333333" stroke-width="0.7" stroke-linejoin="round"/>
<rect x="314" y="414.4" width="3.2" height="20.6" fill="#3c3c3c"/>
<line x1="315.8" y1="435" x2="315.8" y2="492" stroke="#858585" stroke-width="1.6" />
<rect x="242.4" y="361" width="3.6" height="61" fill="#8a8a8a"/>
<rect x="242.4" y="422" width="3.6" height="19.5" fill="#3c3c3c"/>
<rect x="242.4" y="441.5" width="3.6" height="11.5" fill="#8a8a8a"/>
<rect x="242.4" y="453" width="3.6" height="19" fill="#3c3c3c"/>
<rect x="242.4" y="472" width="3.6" height="20" fill="#8a8a8a"/>
<polyline points="267.3,365 267.3,372.8 246.4,372.8" fill="none" stroke="#858585" stroke-width="1.5" />
<rect x="247.3" y="366.8" width="2.4" height="3.4" fill="none" stroke="#858585" stroke-width="0.6"/>
<rect x="254" y="366.5" width="5.5" height="4.6" fill="none" stroke="#858585" stroke-width="0.7"/>
<polyline points="254.5,370.8 256.5,367.5 259,366.8" fill="none" stroke="#777" stroke-width="0.7" stroke-linejoin="round"/>
<rect x="246.5" y="375.5" width="2.6" height="8" fill="none" stroke="#858585" stroke-width="1.1"/>
<path d="M249.1 375.9 H255.5 A3.6 3.6 0 0 1 255.5 383.1 H249.1" fill="none" stroke="#858585" stroke-width="1.1"/>
<circle cx="247.8" cy="379.5" r="0.5" fill="#858585"/>
<path d="M246.3 386.4 H248.2 A4.6 4.6 0 0 1 248.2 395.6 H246.3 Z" fill="none" stroke="#858585" stroke-width="1.3"/>
<line x1="246.8" y1="391" x2="249.3" y2="391" stroke="#333333" stroke-width="1" />
<rect x="246.65" y="400.65" width="35.3" height="13.5" fill="none" stroke="#858585" stroke-width="1.3"/>
<path d="M247.9 401.9 H275.5 A5.2 5.2 0 0 1 275.5 412.9 H247.9 Z" fill="none" stroke="#858585" stroke-width="0.8"/>
<line x1="245.5" y1="407.4" x2="250" y2="407.4" stroke="#333333" stroke-width="1.1" />
<line x1="282.2" y1="364.6" x2="282.2" y2="380" stroke="#858585" stroke-width="1.6" />
<line x1="282.2" y1="394" x2="282.2" y2="414.4" stroke="#858585" stroke-width="1.6" />
<polyline points="282.2,380 290.5,390.5 288,392.5 282.2,394" fill="none" stroke="#333333" stroke-width="0.7" stroke-linejoin="round"/>
<circle cx="280.4" cy="445" r="15.8" fill="none" stroke="#2a2a2a" stroke-width="0.8"/>
<line x1="264.6" y1="445" x2="296.2" y2="445" stroke="#2a2a2a" stroke-width="0.8" />
<text x="280.4" y="441.12" font-size="11.8" fill="#2a2a2a" stroke="#2a2a2a" stroke-width="0.12" text-anchor="middle">1</text>
<text x="280.4" y="454.04" font-size="8.5" fill="#2a2a2a" stroke="#2a2a2a" stroke-width="0.12" text-anchor="middle">46,4</text>
<text x="267" y="391.51" font-size="8.7" fill="#2a2a2a" stroke="#2a2a2a" stroke-width="0.12" text-anchor="middle">4,3</text>
<text x="311.6" y="393.91" font-size="8.7" fill="#2a2a2a" stroke="#2a2a2a" stroke-width="0.12" text-anchor="middle">7,7</text>
<text x="358" y="388.71" font-size="8.7" fill="#2a2a2a" stroke="#2a2a2a" stroke-width="0.12" text-anchor="middle">2,7</text>
<text x="351.6" y="452.71" font-size="8.7" fill="#2a2a2a" stroke="#2a2a2a" stroke-width="0.12" text-anchor="middle">16,3</text>
<text x="280.4" y="480.11" font-size="8.7" fill="#2a2a2a" stroke="#2a2a2a" stroke-width="0.12" text-anchor="middle">15,4</text>
<line x1="243.2" y1="216.5" x2="243.2" y2="293" stroke="#858585" stroke-width="1.6" />
<rect x="242.5" y="239.5" width="3.5" height="18" fill="#3c3c3c"/>
<rect x="242.5" y="269.5" width="3.5" height="18.5" fill="#3c3c3c"/>
<line x1="242.8" y1="294" x2="242.8" y2="314" stroke="#333333" stroke-width="0.9" stroke-dasharray="3.5 2.5"/>
<rect x="242" y="318" width="2" height="13" fill="#8a8a8a"/>
<line x1="242" y1="319.2" x2="302" y2="319.2" stroke="#858585" stroke-width="1.6" />
<line x1="185.5" y1="293.2" x2="223" y2="293.2" stroke="#858585" stroke-width="1.6" />
<polyline points="223,293 224.5,288.5 227.5,285 239,293 242.5,293" fill="none" stroke="#333333" stroke-width="0.7" stroke-linejoin="round"/>
<line x1="220.7" y1="293.2" x2="220.7" y2="301" stroke="#858585" stroke-width="1.6" />
<line x1="220.7" y1="315.5" x2="220.7" y2="330" stroke="#858585" stroke-width="1.6" />
<line x1="220.7" y1="343.5" x2="220.7" y2="373" stroke="#858585" stroke-width="1.6" />
<line x1="220.7" y1="387.5" x2="220.7" y2="406.5" stroke="#858585" stroke-width="1.6" />
<polyline points="220.7,301 228.5,312.5 226,314.5 220.7,315.5" fill="none" stroke="#333333" stroke-width="0.7" stroke-linejoin="round"/>
<polyline points="220.7,330 228.5,341 226,343 220.7,343.5" fill="none" stroke="#333333" stroke-width="0.7" stroke-linejoin="round"/>
<polyline points="220.7,373 228.5,377.5 221.5,387 220.7,387.5" fill="none" stroke="#333333" stroke-width="0.7" stroke-linejoin="round"/>
<line x1="185.5" y1="325.2" x2="220.7" y2="325.2" stroke="#858585" stroke-width="1.6" />
<rect x="185.8" y="331" width="2.6" height="8.5" fill="none" stroke="#858585" stroke-width="1.1"/>
<path d="M188.4 331.4 H194.35 A3.85 3.85 0 0 1 194.35 339.1 H188.4" fill="none" stroke="#858585" stroke-width="1.1"/>
<circle cx="187.1" cy="335.25" r="0.5" fill="#858585"/>
<path d="M207.2 352 V350.1 A4.6 4.6 0 0 1 216.4 350.1 V352 Z" fill="none" stroke="#858585" stroke-width="1.3"/>
<line x1="211.8" y1="351.5" x2="211.8" y2="349" stroke="#333333" stroke-width="1" />
<line x1="185.5" y1="352.7" x2="220.7" y2="352.7" stroke="#858585" stroke-width="1.5" />
<line x1="185.5" y1="360.8" x2="220.7" y2="360.8" stroke="#858585" stroke-width="1.5" />
<rect x="186.5" y="354.3" width="3.4" height="3.6" fill="none" stroke="#858585" stroke-width="0.6"/>
<polyline points="190,360 192,356 210,354" fill="none" stroke="#777" stroke-width="0.7" stroke-linejoin="round"/>
<line x1="210.5" y1="353.5" x2="210.5" y2="360" stroke="#858585" stroke-width="0.8" />
<rect x="185.8" y="364.3" width="2.6" height="8.5" fill="none" stroke="#858585" stroke-width="1.1"/>
<path d="M188.4 364.7 H194.35 A3.85 3.85 0 0 1 194.35 372.4 H188.4" fill="none" stroke="#858585" stroke-width="1.1"/>
<circle cx="187.1" cy="368.55" r="0.5" fill="#858585"/>
<path d="M185.8 376.9 H187.7 A4.6 4.6 0 0 1 187.7 386.1 H185.8 Z" fill="none" stroke="#858585" stroke-width="1.3"/>
<line x1="186.3" y1="381.5" x2="188.8" y2="381.5" stroke="#333333" stroke-width="1" />
<rect x="186.15" y="392.95" width="34.5" height="13.2" fill="none" stroke="#858585" stroke-width="1.3"/>
<path d="M187.4 394.2 H214.35 A5.05 5.05 0 0 1 214.35 404.9 H187.4 Z" fill="none" stroke="#858585" stroke-width="0.8"/>
<line x1="185" y1="399.55" x2="189.5" y2="399.55" stroke="#333333" stroke-width="1.1" />
<line x1="185.5" y1="406" x2="224.5" y2="406" stroke="#858585" stroke-width="1.6" />
<polyline points="224.5,406 225,402.5 227.5,398.5 240,406.5 242.5,406.5" fill="none" stroke="#333333" stroke-width="0.7" stroke-linejoin="round"/>
<rect x="292.45" y="297.45" width="8.6" height="11.1" fill="none" stroke="#858585" stroke-width="0.9"/>
<rect x="293.8" y="300" width="6.1" height="7.4" fill="none" stroke="#858585" stroke-width="0.8"/>
<line x1="300.5" y1="304" x2="295.5" y2="304" stroke="#333333" stroke-width="1" />
<line x1="295.5" y1="302.7" x2="295.5" y2="305.3" stroke="#333333" stroke-width="0.8" />
<rect x="274.8" y="320.6" width="27.6" height="9" fill="#fff" stroke="#858585" stroke-width="1.6"/>
<rect x="277" y="322.5" width="20" height="5.2" fill="none" stroke="#858585" stroke-width="0.7"/>
<rect x="298" y="325" width="2.6" height="2.6" fill="none" stroke="#858585" stroke-width="0.7"/>
<rect x="284.4" y="330" width="3.6" height="7.5" fill="#8a8a8a"/>
<rect x="284.4" y="355" width="3.6" height="7" fill="#8a8a8a"/>
<polyline points="286,337.5 295,341 287,355 286,355.5" fill="none" stroke="#333333" stroke-width="0.7" stroke-linejoin="round"/>
<circle cx="273.6" cy="254.4" r="15.8" fill="none" stroke="#2a2a2a" stroke-width="0.8"/>
<line x1="257.8" y1="254.4" x2="289.4" y2="254.4" stroke="#2a2a2a" stroke-width="0.8" />
<text x="273.6" y="250.52" font-size="11.8" fill="#2a2a2a" stroke="#2a2a2a" stroke-width="0.12" text-anchor="middle">2</text>
<text x="273.6" y="263.44" font-size="8.5" fill="#2a2a2a" stroke="#2a2a2a" stroke-width="0.12" text-anchor="middle">63,8</text>
<text x="214" y="261.11" font-size="8.7" fill="#2a2a2a" stroke="#2a2a2a" stroke-width="0.12" text-anchor="middle">12,3</text>
<text x="273.6" y="295.51" font-size="8.7" fill="#2a2a2a" stroke="#2a2a2a" stroke-width="0.12" text-anchor="middle">16,5</text>
<text x="203" y="312.71" font-size="8.7" fill="#2a2a2a" stroke="#2a2a2a" stroke-width="0.12" text-anchor="middle">3,0</text>
<text x="211.3" y="340.11" font-size="8.7" fill="#2a2a2a" stroke="#2a2a2a" stroke-width="0.12" text-anchor="middle">2,6</text>
<text x="258" y="351.11" font-size="8.7" fill="#2a2a2a" stroke="#2a2a2a" stroke-width="0.12" text-anchor="middle">11,3</text>
<text x="207.3" y="380.41" font-size="8.7" fill="#2a2a2a" stroke="#2a2a2a" stroke-width="0.12" text-anchor="middle">4,3</text>
<text x="214" y="450.91" font-size="8.7" fill="#2a2a2a" stroke="#2a2a2a" stroke-width="0.12" text-anchor="middle">13,8</text>
<rect x="302" y="328" width="126" height="2" fill="#8a8a8a"/>
<rect x="302" y="314.4" width="3.4" height="15.6" fill="#8a8a8a"/>
<rect x="350" y="314.4" width="4" height="15.6" fill="#8a8a8a"/>
<rect x="381" y="314.4" width="4" height="15.6" fill="#8a8a8a"/>
<rect x="424" y="301" width="4" height="29" fill="#8a8a8a"/>
<line x1="319" y1="314.4" x2="319" y2="328" stroke="#858585" stroke-width="0.8" />
<line x1="332" y1="314.4" x2="332" y2="328" stroke="#858585" stroke-width="0.8" />
<line x1="405" y1="314.4" x2="405" y2="328" stroke="#858585" stroke-width="0.8" />
<polyline points="306.6,328 307.8,320 309.4,317.5 318.5,316" fill="none" stroke="#666" stroke-width="0.7" stroke-linejoin="round"/>
<polyline points="333.2,328 334.4,320 336,317.5 349.5,316" fill="none" stroke="#666" stroke-width="0.7" stroke-linejoin="round"/>
<polyline points="386.2,328 387.4,320 389,317.5 404.5,316" fill="none" stroke="#666" stroke-width="0.7" stroke-linejoin="round"/>
<polyline points="406.2,328 407.4,320 409,317.5 423.5,316" fill="none" stroke="#666" stroke-width="0.7" stroke-linejoin="round"/>
<rect x="357" y="324.5" width="3" height="3" fill="none" stroke="#858585" stroke-width="0.7"/>
<rect x="363.5" y="323.5" width="1.6" height="4" fill="none" stroke="#858585" stroke-width="0.7"/>
<rect x="367" y="326.5" width="11" height="4.5" fill="#fff" stroke="#858585" stroke-width="0.7"/>
<rect x="377" y="323.5" width="1.6" height="4" fill="none" stroke="#858585" stroke-width="0.7"/>
<polyline points="307,328 309,319 313,316.5 323,315.5" fill="none" stroke="#666" stroke-width="0.7" stroke-linejoin="round"/>
<rect x="418" y="266" width="14" height="3" fill="#8a8a8a"/>
<rect x="424" y="266" width="4" height="9" fill="#8a8a8a"/>
<polyline points="426,275 418,288 424,292 419.5,295 426,301" fill="none" stroke="#333333" stroke-width="0.7" stroke-linejoin="round"/>
<rect x="419.5" y="187" width="11" height="24" fill="none" stroke="#858585" stroke-width="0.8"/>
<polyline points="420.5,210 421.5,190 430,188" fill="none" stroke="#666" stroke-width="0.7" stroke-linejoin="round"/>
<rect x="423.5" y="214" width="7" height="15" fill="none" stroke="#858585" stroke-width="0.8"/>
<rect x="421" y="212.5" width="4" height="2.5" fill="none" stroke="#858585" stroke-width="0.7"/>
<rect x="421" y="227.5" width="4" height="2.5" fill="none" stroke="#858585" stroke-width="0.7"/>
<polyline points="432,233 440,246 434,250 441,253 434,263" fill="none" stroke="#333333" stroke-width="0.7" stroke-linejoin="round"/>
<rect x="419.5" y="234" width="3" height="2.5" fill="none" stroke="#858585" stroke-width="0.7"/>
<polyline points="419.5,265 421,261 425,259.5" fill="none" stroke="#666" stroke-width="0.7" stroke-linejoin="round"/>
<rect x="412" y="187" width="2.4" height="4.5" fill="none" stroke="#858585" stroke-width="0.7"/>
<rect x="242" y="361.3" width="23" height="3.5" fill="#3c3c3c"/>
<rect x="462.4" y="338" width="3.6" height="26.5" fill="#3c3c3c"/>
</svg>
</body></html>
